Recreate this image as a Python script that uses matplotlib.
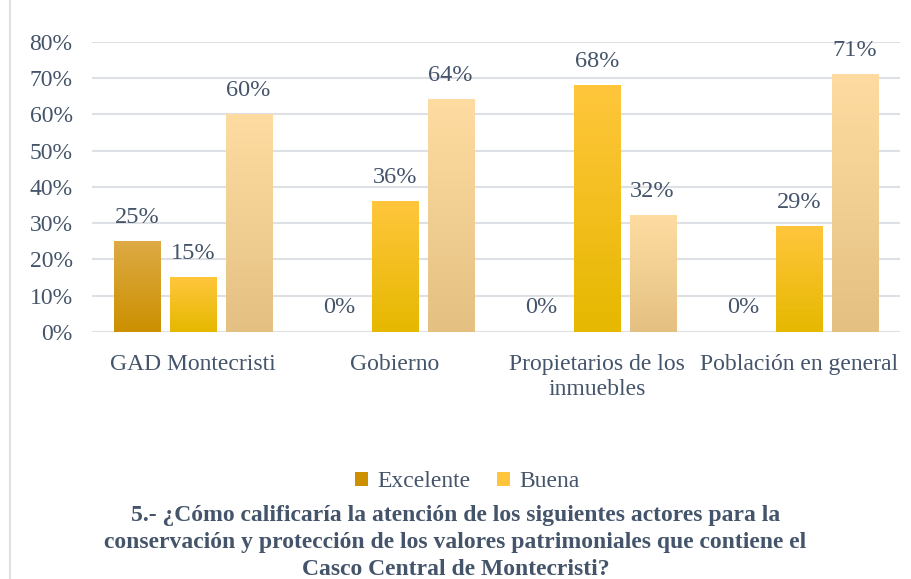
import numpy as np
import matplotlib.pyplot as plt
from matplotlib.colors import LinearSegmentedColormap
from matplotlib.patches import Patch

categories = ["GAD Montecristi", "Gobierno", "Propietarios de los\ninmuebles", "Población en general"]
excelente = [0.25, 0.0, 0.0, 0.0]
buena = [0.15, 0.36, 0.68, 0.29]
regular = [0.60, 0.64, 0.32, 0.71]
series_names = ["Excelente", "Buena", "Regular"]
yticks = [0, 0.1, 0.2, 0.3, 0.4, 0.5, 0.6, 0.7, 0.8]

txt = "#44546A"
plt.rcParams['font.family'] = ['Liberation Serif', 'DejaVu Serif']

# gradient colours (bottom, top)
grads = [("#CC9000", "#DDAA45"), ("#E6B800", "#FFC63C"), ("#E4C082", "#FEDCA1")]

fig = plt.figure(figsize=(9.11, 5.79), dpi=100)
ax = fig.add_axes([0.101, 0.4266, 0.887, 0.5009])

x = np.arange(len(categories))
w = 0.228
offs = [-0.275, 0.0, 0.275]
for k, vals in enumerate([excelente, buena, regular]):
    cmap = LinearSegmentedColormap.from_list("g%d" % k, list(grads[k]))
    bars = ax.bar(x + offs[k], vals, w, color="none", zorder=3)
    for b, v in zip(bars, vals):
        if v > 0:
            x0 = b.get_x()
            ax.imshow(np.linspace(0, 1, 100).reshape(-1, 1), cmap=cmap, origin="lower",
                      extent=[x0, x0 + w, 0, v], aspect="auto", zorder=3)
        ax.text(b.get_x() + w / 2, v + 0.038, "%d%%" % round(v * 100), ha="center",
                va="bottom", fontsize=17.5, color=txt)

ax.set_xlim(-0.5, len(categories) - 0.5)
ax.set_ylim(0, 0.8)
ax.set_yticks(yticks)
ax.set_yticklabels(["%d%%" % round(t * 100) for t in yticks], fontsize=17, color=txt)
ax.set_xticks(x)
ax.set_xticklabels(categories, fontsize=17, color=txt, linespacing=1.25)
ax.tick_params(length=0, pad=14)
ax.tick_params(axis="x", pad=16)
ax.grid(axis="y", color="#DDE1E6", lw=1.5, zorder=0)
for s in ax.spines.values():
    s.set_visible(False)

handles = [Patch(facecolor=grads[0][0]), Patch(facecolor=grads[1][1])]
fig.legend(handles, series_names[:2], loc="center", bbox_to_anchor=(0.513, 0.168), ncol=2,
           frameon=False, fontsize=17, labelcolor=txt, handlelength=0.55, handleheight=0.55,
           handletextpad=0.4, columnspacing=1.1)

fig.text(0.5, 0.063, "5.- ¿Cómo calificaría la atención de los siguientes actores para la\n"
         "conservación y protección de los valores patrimoniales que contiene el\n"
         "Casco Central de Montecristi?", ha="center", va="center", fontsize=17,
         fontweight="bold", color=txt, linespacing=1.38)

fig.add_artist(plt.Line2D([0.011, 0.011], [0, 1], color="#DDE1E6", lw=1.5))

fig.savefig("out.png", dpi=100)
